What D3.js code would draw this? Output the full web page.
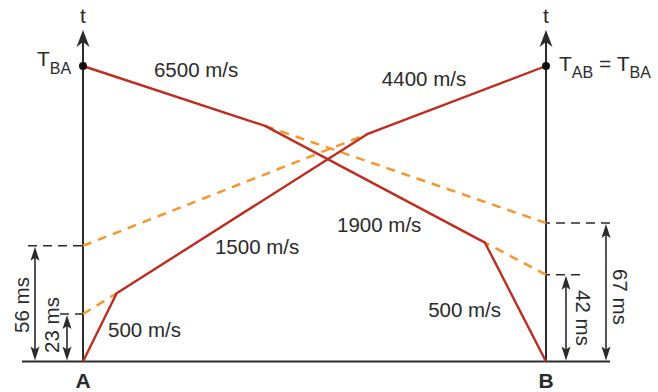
<!DOCTYPE html>
<html>
<head>
<meta charset="utf-8">
<script src="https://cdn.jsdelivr.net/npm/d3@7"></script>
<style>
  html, body { margin: 0; padding: 0; background: #fff; }
  svg { display: block; font-family: "Liberation Sans", Arial, Helvetica, sans-serif; }
</style>
</head>
<body>
<script>
// Reciprocal refraction travel-time curves between shot points A and B.
const spreadLength = 220;          // distance A–B, m
const reciprocalTime = 143;        // T_AB = T_BA, ms

// Forward shot (A -> B): distances (m) and first-arrival times (ms) at the slope breaks
const forwardDist = [0, 16, 135, 220];
const forwardTime = [0, 33, 110, 143];
const forwardVel = ["500 m/s", "1500 m/s", "4400 m/s"];

// Reverse shot (B -> A)
const reverseDist = [220, 191, 86.5, 0];
const reverseTime = [0, 57.5, 114, 143];
const reverseVel = ["500 m/s", "1900 m/s", "6500 m/s"];

// Intercept times (ms) of the refracted branches
const interceptA = [23, 56];
const interceptB = [42, 67];

const W = 658, H = 392;
const RED = "#bf2d20", ORANGE = "#f7962f", INK = "#2b2b2b";

const svg = d3.select("body").append("svg").attr("width", W).attr("height", H);

const x = d3.scaleLinear().domain([0, spreadLength]).range([83, 546]);
const y = d3.scaleLinear().domain([0, reciprocalTime]).range([361.5, 66]);

// arrowhead with a notched base; (tx,ty) is the tip, dir = +1 up, -1 down
function arrowHead(tx, ty, dir, len, half, notch) {
  const b = ty + dir * len, n = ty + dir * (len - notch);
  return `M${tx},${ty}L${tx - half},${b}L${tx},${n}L${tx + half},${b}Z`;
}

// ground line
svg.append("line")
  .attr("x1", x(0) - 61).attr("x2", x(spreadLength) + 64)
  .attr("y1", y(0)).attr("y2", y(0))
  .attr("stroke", INK).attr("stroke-width", 2);

// time axes at A and B
const axisTop = 30;
[0, spreadLength].forEach(d => {
  svg.append("line")
    .attr("x1", x(d)).attr("x2", x(d))
    .attr("y1", y(0)).attr("y2", axisTop + 8)
    .attr("stroke", INK).attr("stroke-width", 2);
  svg.append("path")
    .attr("d", arrowHead(x(d), axisTop, 1, 17, 6.5, 5))
    .attr("fill", INK);
  svg.append("text")
    .attr("x", x(d)).attr("y", 23)
    .attr("text-anchor", "middle")
    .attr("font-size", 21).attr("fill", INK)
    .text("t");
});

// interval markers: horizontal dashed ticks and double arrows
function interval(val, tickFrom, tickTo, arrowX) {
  svg.append("line")
    .attr("x1", tickFrom).attr("x2", tickTo)
    .attr("y1", y(val)).attr("y2", y(val))
    .attr("stroke", INK).attr("stroke-width", 1.6)
    .attr("stroke-dasharray", "9,6");
  svg.append("line")
    .attr("x1", arrowX).attr("x2", arrowX)
    .attr("y1", y(val) + 6).attr("y2", y(0) - 6)
    .attr("stroke", INK).attr("stroke-width", 1.6);
  svg.append("path").attr("d", arrowHead(arrowX, y(val) + 1, 1, 14, 4.5, 3)).attr("fill", INK);
  svg.append("path").attr("d", arrowHead(arrowX, y(0) - 1, -1, 14, 4.5, 3)).attr("fill", INK);
}
interval(interceptA[1], x(0) - 55, x(0), x(0) - 48);
interval(interceptA[0], x(0) - 23, x(0), x(0) - 16);
interval(interceptB[0], x(spreadLength) + 34, x(spreadLength), x(spreadLength) + 20);
interval(interceptB[1], x(spreadLength) + 64, x(spreadLength), x(spreadLength) + 60);

function vLabel(txt, cx, cy, rot) {
  svg.append("text")
    .attr("transform", `translate(${cx},${cy}) rotate(${rot})`)
    .attr("text-anchor", "middle").attr("dy", "0.36em")
    .attr("font-size", 20.5).attr("fill", INK)
    .text(txt);
}
vLabel(interceptA[1] + " ms", 22, 305, -90);
vLabel(interceptA[0] + " ms", 52, 325, -90);
vLabel(interceptB[0] + " ms", 583, 318, 90);
vLabel(interceptB[1] + " ms", 620, 297, 90);

// dashed back-extensions of the refracted branches to the intercept times
const dash = (x1, t1, x2, t2) => svg.append("line")
  .attr("x1", x(x1)).attr("y1", y(t1)).attr("x2", x(x2)).attr("y2", y(t2))
  .attr("stroke", ORANGE).attr("stroke-width", 2.5)
  .attr("stroke-dasharray", "9,7");
dash(0, interceptA[0], forwardDist[1], forwardTime[1]);
dash(0, interceptA[1], forwardDist[2], forwardTime[2]);
dash(spreadLength, interceptB[0], reverseDist[1], reverseTime[1]);
dash(spreadLength, interceptB[1], reverseDist[2], reverseTime[2]);

// travel-time curves
const line = d3.line().x(d => x(d[0])).y(d => y(d[1]));
[[forwardDist, forwardTime], [reverseDist, reverseTime]].forEach(([ds, ts]) => {
  svg.append("path")
    .attr("d", line(d3.zip(ds, ts)))
    .attr("fill", "none").attr("stroke", RED)
    .attr("stroke-width", 2.4).attr("stroke-linejoin", "round");
});

// velocity labels (placed in distance/time units)
const velPos = [
  [forwardVel[0], 11.9, 11.9],
  [forwardVel[1], 62.7, 52.0],
  [forwardVel[2], 142, 133.5],
  [reverseVel[0], 164, 21.6],
  [reverseVel[1], 120.7, 62.9],
  [reverseVel[2], 33.7, 137.6]
];
velPos.forEach(([txt, d, t]) => {
  svg.append("text")
    .attr("x", x(d)).attr("y", y(t))
    .attr("font-size", 20.5).attr("fill", INK)
    .text(txt);
});

// reciprocal-time points
[0, spreadLength].forEach(d => {
  svg.append("circle")
    .attr("cx", x(d)).attr("cy", y(reciprocalTime)).attr("r", 4)
    .attr("fill", "#111");
});

// T labels with subscripts
function tLabel(parts, xPos, yPos) {
  const t = svg.append("text").attr("x", xPos).attr("y", yPos)
    .attr("font-size", 21).attr("fill", INK);
  parts.forEach(p => {
    t.append("tspan")
      .attr("font-size", p.sub ? 16 : 21)
      .attr("dy", p.dy || 0)
      .text(p.s);
  });
}
tLabel([{ s: "T" }, { s: "BA", sub: true, dy: 8 }], 37, 66);
tLabel([{ s: "T" }, { s: "AB", sub: true, dy: 7 }, { s: " = ", dy: -7 },
        { s: "T" }, { s: "BA", sub: true, dy: 7 }], 559, 71);

// shot point labels
[["A", 0], ["B", spreadLength]].forEach(([lab, d]) => {
  svg.append("text")
    .attr("x", x(d)).attr("y", 388)
    .attr("text-anchor", "middle")
    .attr("font-size", 21).attr("font-weight", "bold").attr("fill", INK)
    .text(lab);
});
</script>
</body>
</html>
